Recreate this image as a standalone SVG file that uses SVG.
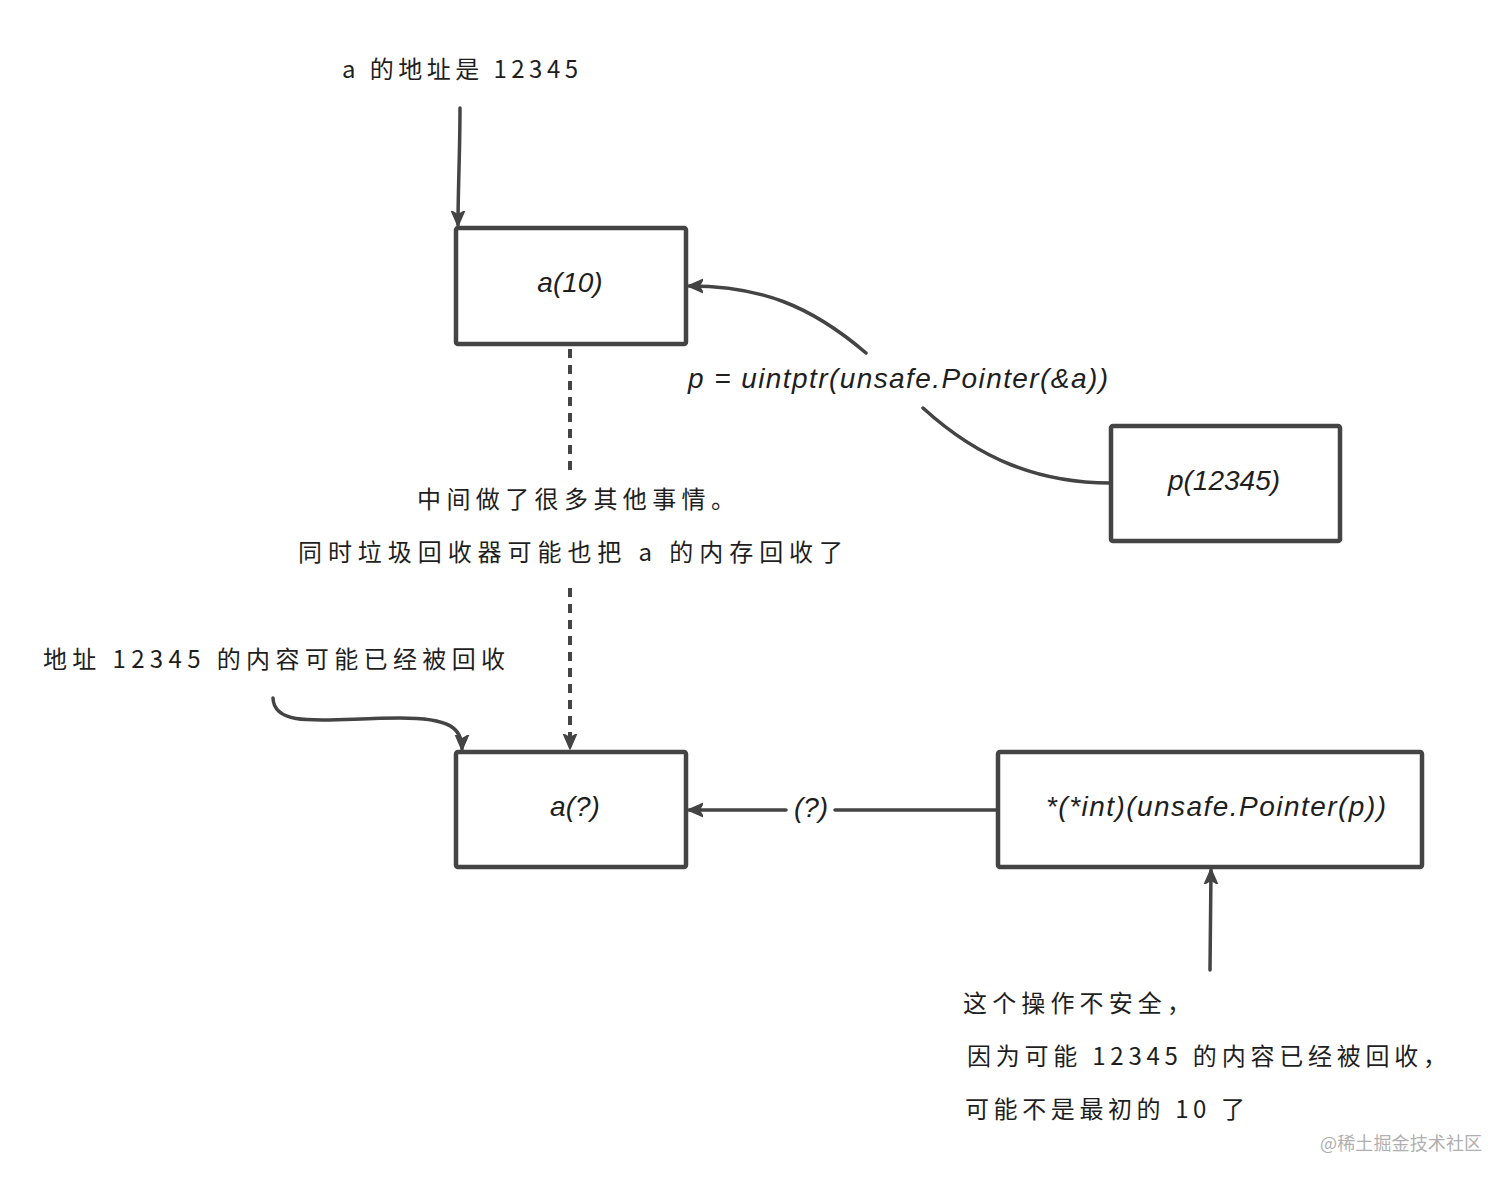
<svg xmlns="http://www.w3.org/2000/svg" width="1512" height="1184" viewBox="0 0 1512 1184">
<style>
.box{fill:#fff;stroke:#444;stroke-width:4.5;stroke-linejoin:round}
.ln{fill:none;stroke:#444;stroke-width:3.5;stroke-linecap:round}
.dash{fill:none;stroke:#444;stroke-width:4;stroke-dasharray:9 7}
.t{font-family:"Noto Sans CJK SC","Liberation Sans",sans-serif;fill:#1e1e1e;font-size:24px}
.c{font-family:"Liberation Sans","Noto Sans CJK SC",sans-serif;font-style:italic;fill:#1e1e1e;font-size:28px;text-anchor:middle}
.wm{font-family:"Noto Sans CJK SC",sans-serif;fill:#b0b0b0;font-size:18px}
</style>
<defs>
<marker id="ah" viewBox="0 0 16 16" refX="14" refY="8" markerWidth="16" markerHeight="16" markerUnits="userSpaceOnUse" orient="auto">
<path d="M0,1.5 L15,8 L0,14.5 L4,8 Z" fill="#444" stroke="#444" stroke-width="1.5" stroke-linejoin="round"/>
</marker>
</defs>
<rect width="1512" height="1184" fill="#fff"/>
<g id="connectors">
<path class="ln" d="M460,108 C460,150 458,190 458,225" marker-end="url(#ah)"/>
<path class="ln" d="M1110,483 C1040,483 980,460 923,408"/>
<path class="ln" d="M866,353 C810,305 760,286 689,286" marker-end="url(#ah)"/>
<path class="dash" d="M570,349 L570,472"/>
<path class="dash" d="M570,588 L570,748" marker-end="url(#ah)"/>
<path class="ln" d="M273,698 C274,730 330,718 400,718 C450,718 462,728 462,749" marker-end="url(#ah)"/>
<path class="ln" d="M998,810 L835,810"/>
<path class="ln" d="M786,810 L689,810" marker-end="url(#ah)"/>
<path class="ln" d="M1210,970 C1210,940 1211,900 1211,870" marker-end="url(#ah)"/>
</g>
<g id="label-addr">
<text class="t" x="342" y="78" textLength="236" lengthAdjust="spacing">a 的地址是 12345</text>
</g>
<g id="node-a10">
<rect class="box" x="456" y="228" width="230" height="116" rx="2"/>
<text class="c" x="570" y="292">a(10)</text>
</g>
<g id="label-p">
<text class="c" x="898" y="388" textLength="420" lengthAdjust="spacing">p = uintptr(unsafe.Pointer(&amp;a))</text>
</g>
<g id="node-p">
<rect class="box" x="1111" y="426" width="229" height="115" rx="2"/>
<text class="c" x="1224" y="490">p(12345)</text>
</g>
<g id="label-middle">
<text class="t" x="417" y="508" textLength="318" lengthAdjust="spacing">中间做了很多其他事情。</text>
<text class="t" x="298" y="561" textLength="545" lengthAdjust="spacing">同时垃圾回收器可能也把 a 的内存回收了</text>
</g>
<g id="label-recycled">
<text class="t" x="43" y="668" textLength="462" lengthAdjust="spacing">地址 12345 的内容可能已经被回收</text>
</g>
<g id="node-aq">
<rect class="box" x="456" y="752" width="230" height="115" rx="2"/>
<text class="c" x="575" y="816">a(?)</text>
</g>
<g id="label-q">
<text class="c" x="811" y="817">(?)</text>
</g>
<g id="node-deref">
<rect class="box" x="998" y="752" width="424" height="115" rx="2"/>
<text class="c" x="1216" y="816" textLength="340" lengthAdjust="spacing">*(*int)(unsafe.Pointer(p))</text>
</g>
<g id="label-unsafe">
<text class="t" x="963" y="1012" textLength="228" lengthAdjust="spacing">这个操作不安全，</text>
<text class="t" x="967" y="1065" textLength="480" lengthAdjust="spacing">因为可能 12345 的内容已经被回收，</text>
<text class="t" x="965" y="1118" textLength="280" lengthAdjust="spacing">可能不是最初的 10 了</text>
</g>
<text class="wm" x="1320" y="1150" textLength="162" lengthAdjust="spacing">@稀土掘金技术社区</text>
</svg>
